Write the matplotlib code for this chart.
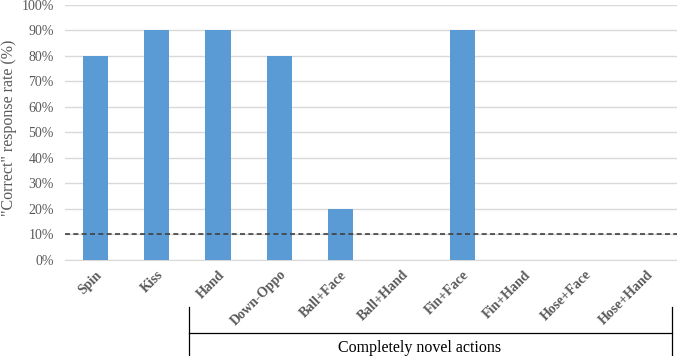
import matplotlib
matplotlib.use("Agg")
import matplotlib.pyplot as plt
from matplotlib.lines import Line2D
from matplotlib.ticker import PercentFormatter

categories = ["Spin", "Kiss", "Hand", "Down-Oppo", "Ball+Face", "Ball+Hand",
              "Fin+Face", "Fin+Hand", "Hose+Face", "Hose+Hand"]
values = [80, 90, 90, 80, 20, 0, 90, 0, 0, 0]
chance_level = 10
yticks = list(range(0, 101, 10))
group_label = "Completely novel actions"

serif = ["Liberation Serif", "DejaVu Serif"]
gray = "#595959"

fig = plt.figure(figsize=(6.77, 3.56), dpi=100)
ax = fig.add_axes([0.096, 0.270, 0.904, 0.716])

x = list(range(len(categories)))
ax.bar(x, values, width=0.41, color="#5b9bd5", zorder=3)
ax.axhline(chance_level, color="#404040", linestyle=(0, (3, 2)), linewidth=1.2, zorder=4)

ax.set_xlim(-0.5, len(categories) - 0.5)
ax.set_ylim(0, 100)
ax.set_yticks(yticks)
ax.yaxis.set_major_formatter(PercentFormatter(decimals=0))
ax.grid(axis="y", color="#d9d9d9", linewidth=1, zorder=0)
for s in ["top", "right", "left"]:
    ax.spines[s].set_visible(False)
ax.spines["bottom"].set_color("#d9d9d9")
ax.tick_params(axis="both", length=0, colors=gray)
ax.tick_params(axis="y", labelsize=10, labelfontfamily="Liberation Serif", pad=8)
ax.set_xticks(x)
ax.set_xticklabels(categories, rotation=45, ha="right", rotation_mode="anchor",
                   fontfamily=serif, fontweight="bold", fontsize=10, color=gray)
ax.tick_params(axis="x", pad=6)
ax.set_ylabel('"Correct" response rate (%)', fontfamily=serif, fontsize=11.5,
              color=gray)
ax.yaxis.set_label_coords(-0.079, 0.52)

# bracket for novel actions
trans = ax.get_xaxis_transform()
xl, xr = 1.52, 9.42
yb_top, yb_mid, yb_bot = -0.185, -0.285, -0.40
for xs, ys in [([xl, xl], [yb_top, yb_bot]), ([xr, xr], [yb_top, yb_bot]),
               ([xl, xr], [yb_mid, yb_mid])]:
    ax.add_line(Line2D(xs, ys, transform=trans, color="black",
                       linewidth=0.9, clip_on=False))
ax.text(5.3, -0.345, group_label, transform=trans, ha="center", va="center",
        fontfamily=serif, fontsize=11.5, color="black")

fig.savefig("out.png", dpi=100)
